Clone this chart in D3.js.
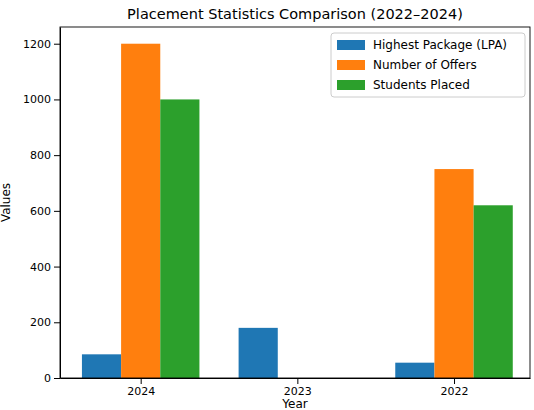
<!DOCTYPE html>
<html>
<head>
<meta charset="utf-8">
<script src="https://cdn.jsdelivr.net/npm/d3@7"></script>
<style>
body { margin: 0; background: #fff; }
text { font-family: "DejaVu Sans", sans-serif; }
</style>
</head>
<body>
<svg id="plot" width="534" height="410"></svg>
<script>
// Data
const years = ["2024", "2023", "2022"];
const highestPackage = [85, 180, 55];
const numberOfOffers = [1200, 0, 750];
const studentsPlaced = [1000, 0, 620];
const seriesNames = ["Highest Package (LPA)", "Number of Offers", "Students Placed"];
const colors = ["#1f77b4", "#ff7f0e", "#2ca02c"];
const yTicks = [0, 200, 400, 600, 800, 1000, 1200];

const series = [highestPackage, numberOfOffers, studentsPlaced];

const margin = { top: 27, right: 4, bottom: 32, left: 60 };
const width = 534 - margin.left - margin.right;
const height = 410 - margin.top - margin.bottom;

const svg = d3.select("#plot")
    .append("g")
    .attr("transform", `translate(${margin.left},${margin.top})`);

// Scales
const x = d3.scaleLinear().domain([-0.515, 2.485]).range([0, width]);
const y = d3.scaleLinear().domain([0, 1260]).range([height, 0]);
const barW = 0.25;

// Bars
series.forEach((vals, s) => {
    svg.selectAll(".bar" + s)
        .data(vals)
        .enter().append("rect")
        .attr("x", (d, i) => x(i + (s - 1) * barW - barW / 2))
        .attr("width", x(barW) - x(0))
        .attr("y", d => y(d))
        .attr("height", d => y(0) - y(d))
        .attr("fill", colors[s]);
});

// Axes
svg.append("g")
    .attr("transform", `translate(0,${height})`)
    .call(d3.axisBottom(x).tickValues([0, 1, 2]).tickFormat(i => years[i]).tickSizeOuter(0))
    .call(g => g.selectAll("text").attr("font-size", 11).attr("fill", "#000"));

svg.append("g")
    .call(d3.axisLeft(y).tickValues(yTicks).tickFormat(d3.format("d")).tickSizeOuter(0))
    .call(g => g.selectAll("text").attr("font-size", 11).attr("fill", "#000"));

// Frame
svg.append("rect")
    .attr("width", width).attr("height", height)
    .attr("fill", "none").attr("stroke", "#000").attr("stroke-width", 0.9);

// Labels
svg.append("text")
    .attr("x", width / 2).attr("y", height + 30)
    .attr("text-anchor", "middle").attr("font-size", 12)
    .text("Year");

svg.append("text")
    .attr("transform", "rotate(-90)")
    .attr("x", -height / 2).attr("y", -50)
    .attr("text-anchor", "middle").attr("font-size", 12)
    .text("Values");

svg.append("text")
    .attr("x", width / 2).attr("y", -8)
    .attr("text-anchor", "middle").attr("font-size", 14.5)
    .text("Placement Statistics Comparison (2022\u20132024)");

// Legend
const legend = svg.append("g").attr("transform", `translate(${width - 199},6)`);
legend.append("rect")
    .attr("width", 194).attr("height", 64).attr("rx", 3)
    .attr("fill", "#fff").attr("fill-opacity", 0.8).attr("stroke", "#ccc");
seriesNames.forEach((name, i) => {
    legend.append("rect")
        .attr("x", 6).attr("y", 7 + i * 20).attr("width", 28).attr("height", 10)
        .attr("fill", colors[i]);
    legend.append("text")
        .attr("x", 42).attr("y", 16 + i * 20).attr("font-size", 12)
        .text(name);
});
</script>
</body>
</html>
